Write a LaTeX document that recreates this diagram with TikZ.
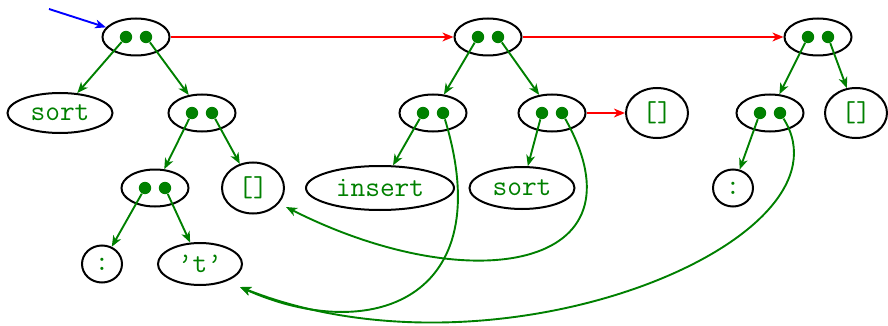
\documentclass[tikz,border=0pt]{standalone}
\usetikzlibrary{shapes.geometric,arrows.meta}
\definecolor{dg}{RGB}{0,128,0}
\tikzset{
  cell/.style={ellipse,draw,line width=1pt,minimum width=33.5pt,minimum height=18.5pt,inner sep=0pt},
  leaf/.style={ellipse,draw,line width=1pt,inner sep=0pt,text=dg,font=\fontsize{14.3}{16}\selectfont\ttfamily},
  dotnode/.style={circle,fill=dg,inner sep=0pt,minimum size=6.2pt},
  tip/.style={-{Stealth[length=5.5pt,width=4.4pt,inset=1.6pt]}},
  ptr/.style={draw=dg,line width=0.95pt,tip},
  nxt/.style={draw=red,line width=0.95pt,tip},
  entry/.style={draw=blue,line width=0.95pt,tip}
}
\newcommand\mkpair[3]{%
  \node[cell] (#1) at (#2,#3) {};
  \node[dotnode] (#1l) at (#2-10,#3) {};
  \node[dotnode] (#1r) at (#2+10,#3) {};
}
\begin{document}
\begin{tikzpicture}[x=0.5pt,y=-0.5pt]
\useasboundingbox (0,0) rectangle (888,326);
% pairs
\mkpair{A}{136}{37}
\mkpair{B}{488}{37}
\mkpair{C}{818}{37}
\mkpair{D}{202}{113}
\mkpair{E}{433}{113}
\mkpair{F}{552}{113}
\mkpair{G}{770}{113}
\mkpair{H}{155}{188}
% leaves
\node[leaf,minimum width=52.5pt,minimum height=20pt] (sorta) at (60,113) {sort};
\node[leaf,minimum width=31pt,minimum height=25pt] (nila) at (657,113) {[]};
\node[leaf,minimum width=31pt,minimum height=25pt] (nilb) at (856,113) {[]};
\node[leaf,minimum width=31pt,minimum height=25.5pt] (nilc) at (253,188) {[]};
\node[leaf,minimum width=74pt,minimum height=22pt] (ins) at (380,188) {insert};
\node[leaf,minimum width=52.5pt,minimum height=21pt] (sortb) at (522,188) {sort};
\node[leaf,minimum width=20pt,minimum height=18.5pt] (cola) at (102,264) {:};
\node[leaf,minimum width=20pt,minimum height=18.5pt] (colb) at (733,188) {:};
\node[leaf,minimum width=42pt,minimum height=21pt] (tch) at (200,264) {’t’};
% free ends
\coordinate (start) at (49,9);
\coordinate (tin) at (240,287);
\coordinate (nilin) at (286,207);
% entry and spine
\draw[entry] (start) -- (A);
\draw[nxt] (A) -- (B);
\draw[nxt] (B) -- (C);
\draw[nxt] (F) -- (nila);
% tree pointers
\draw[ptr] (Al) -- (sorta);
\draw[ptr] (Ar) -- (D);
\draw[ptr] (Dl) -- (H);
\draw[ptr] (Dr) -- (nilc);
\draw[ptr] (Hl) -- (cola);
\draw[ptr] (Hr) -- (tch);
\draw[ptr] (Bl) -- (E);
\draw[ptr] (Br) -- (F);
\draw[ptr] (El) -- (ins);
\draw[ptr] (Fl) -- (sortb);
\draw[ptr] (Cl) -- (G);
\draw[ptr] (Cr) -- (nilb);
\draw[ptr] (Gl) -- (colb);
% shared pointers
\draw[ptr] (Er) .. controls (500,300) and (370,345) .. (tin);
\draw[ptr] (Fr) .. controls (650,270) and (470,300) .. (nilin);
\draw[ptr] (Gr) .. controls (860,240) and (500,390) .. (tin);
\end{tikzpicture}
\end{document}
